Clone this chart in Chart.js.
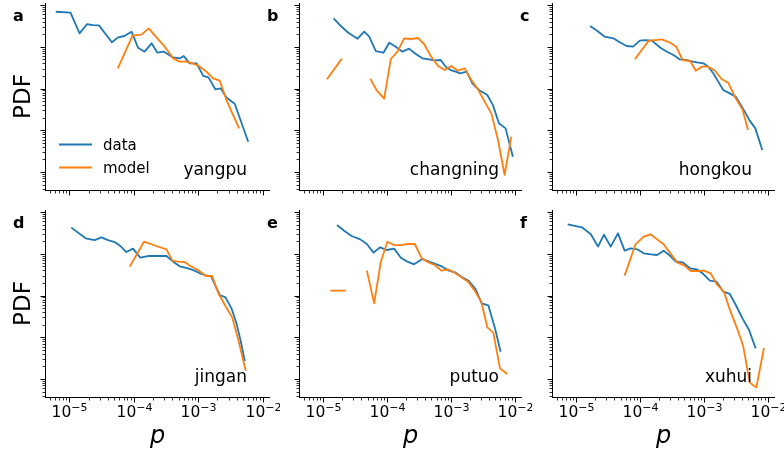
<!DOCTYPE html>
<html lang="en">
<head>
    <meta charset="UTF-8">
    <title>PDF of p by district</title>
    <script src="https://cdn.jsdelivr.net/npm/chart.js"></script>
    <style>
        * {
            margin: 0;
            padding: 0;
            box-sizing: border-box;
        }
        body {
            background: #fff;
        }
        #fig {
            position: relative;
            width: 784px;
            height: 450px;
            overflow: hidden;
        }
        #fig canvas {
            position: absolute;
        }
    </style>
</head>
<body>
    <div id="fig"></div>

    <script>
        // axis ranges (shared by all panels)
        const P_MIN = 4.22e-6, P_MAX = 1.306e-2;
        const PDF_MIN = 0.371, PDF_MAX = 11170;

        const districts = ['yangpu', 'changning', 'hongkou', 'jingan', 'putuo', 'xuhui'];
        const panelLetters = ['a', 'b', 'c', 'd', 'e', 'f'];
        const seriesNames = ['data', 'model'];

        // yangpu
        const yangpuDataP = [6.2e-6, 1.05e-5, 1.45e-5, 1.9e-5, 2.34e-5, 2.9e-5, 4.6e-5, 5.75e-5, 7.2e-5, 9.3e-5, 1.17e-4, 1.48e-4, 1.9e-4, 2.34e-4, 2.95e-4, 4.1e-4, 5.25e-4, 6.0e-4, 7.4e-4, 9.5e-4, 1.2e-3, 1.45e-3, 1.86e-3, 2.24e-3, 2.75e-3, 3.7e-3, 6.0e-3];
        const yangpuDataPdf = [6900, 6600, 2090, 3500, 3300, 3260, 1280, 1680, 1810, 2300, 950, 762, 1210, 720, 762, 557, 528, 600, 400, 400, 200, 185, 95, 101, 61, 43, 5.3];
        const yangpuModelP = [5.7e-5, 9.6e-5, 1.32e-4, 1.72e-4, 2.26e-4, 3.04e-4, 4.1e-4, 5.2e-4, 6.6e-4, 8.2e-4, 1.03e-3, 1.35e-3, 1.71e-3, 2.17e-3, 2.76e-3, 3.5e-3, 4.33e-3];
        const yangpuModelPdf = [304, 1845, 1950, 2760, 1680, 1005, 528, 440, 440, 400, 346, 253, 175, 154, 53, 23, 11.1];

        // changning
        const changningDataP = [1.47e-5, 1.91e-5, 2.49e-5, 3.48e-5, 4.43e-5, 5.3e-5, 6.73e-5, 8.87e-5, 1.09e-4, 1.38e-4, 1.76e-4, 2.23e-4, 2.84e-4, 3.6e-4, 4.58e-4, 5.5e-4, 6.98e-4, 8.35e-4, 1.0e-3, 1.2e-3, 1.4e-3, 1.78e-3, 2.18e-3, 2.77e-3, 3.74e-3, 4.58e-3, 5.69e-3, 7.23e-3, 9.4e-3];
        const changningDataPdf = [4800, 3140, 2170, 1560, 2300, 1745, 790, 721, 1250, 1005, 762, 900, 670, 528, 500, 473, 482, 333, 277, 253, 231, 253, 133, 92, 70, 40, 14.7, 11.1, 2.33];
        const changningModelP = [1.155e-5, 1.98e-5, 3.0e-5, 5.5e-5, 6.98e-5, 9.08e-5, 1.155e-4, 1.47e-4, 1.87e-4, 2.37e-4, 3.09e-4, 3.83e-4, 4.87e-4, 6.34e-4, 8.05e-4, 1.02e-3, 1.3e-3, 1.66e-3, 2.1e-3, 2.67e-3, 3.4e-3, 4.32e-3, 5.5e-3, 6.98e-3, 8.87e-3];
        const changningModelPdf = [166, 519, null, 172, 88.7, 57.1, 509, 762, 1590, 1535, 1620, 1165, 600, 346, 277, 346, 267, 304, 160, 95.5, 48.4, 25.4, 5.85, 0.85, 7.0];

        // hongkou
        const hongkouDataP = [1.67e-5, 2.17e-5, 2.82e-5, 3.85e-5, 5.0e-5, 6.2e-5, 7.87e-5, 1.0e-4, 1.22e-4, 1.55e-4, 2.1e-4, 2.66e-4, 3.37e-4, 4.18e-4, 5.3e-4, 6.74e-4, 8.26e-4, 9.9e-4, 1.18e-3, 1.41e-3, 1.69e-3, 2.02e-3, 2.56e-3, 3.18e-3, 4.04e-3, 5.25e-3, 6.43e-3, 8.26e-3];
        const hongkouDataPdf = [3140, 2380, 1745, 1590, 1250, 1042, 1005, 1400, 1450, 1400, 950, 762, 635, 500, 482, 440, 416, 401, 333, 231, 146, 92, 76.6, 63.7, 34.8, 17, 11.1, 3.37];
        const hongkouModelP = [8.36e-5, 1.38e-4, 1.75e-4, 2.22e-4, 3.0e-4, 3.72e-4, 4.66e-4, 6.13e-4, 7.52e-4, 9.31e-4, 1.18e-3, 1.5e-3, 1.9e-3, 2.42e-3, 3.07e-3, 4.04e-3, 4.94e-3];
        const hongkouModelPdf = [500, 1400, 1450, 1505, 1250, 1005, 482, 456, 267, 333, 333, 267, 169, 138, 63.7, 31.7, 10.1];

        // jingan
        const jinganDataP = [1.08e-5, 1.8e-5, 2.49e-5, 3.16e-5, 4.0e-5, 5.08e-5, 6.22e-5, 7.7e-5, 9.8e-5, 1.27e-4, 1.67e-4, 2.25e-4, 3.23e-4, 4.1e-4, 5.19e-4, 7.0e-4, 8.88e-4, 1.06e-3, 1.27e-3, 1.61e-3, 1.88e-3, 2.17e-3, 2.66e-3, 3.3e-3, 3.94e-3, 4.55e-3, 5.31e-3];
        const jinganDataPdf = [4220, 2340, 2130, 2470, 2130, 1910, 1535, 1100, 1325, 805, 883, 883, 883, 646, 500, 448, 394, 340, 310, 282, 163, 103, 90.4, 49.3, 21.5, 8.6, 2.7];
        const jinganModelP = [8.7e-5, 1.45e-4, 2.25e-4, 3.23e-4, 4.0e-4, 4.9e-4, 6.2e-4, 7.6e-4, 1.0e-3, 1.32e-3, 1.65e-3, 2.09e-3, 2.66e-3, 3.38e-3, 4.19e-3, 5.5e-3];
        const jinganModelPdf = [491, 1945, 1535, 1276, 682, 646, 634, 509, 408, 293, 293, 109, 56.1, 30, 8.9, 1.58];

        // putuo
        const putuoDataP = [1.66e-5, 2.15e-5, 2.81e-5, 3.83e-5, 4.87e-5, 6.19e-5, 7.87e-5, 1.0e-4, 1.3e-4, 1.66e-4, 2.1e-4, 2.67e-4, 3.6e-4, 4.58e-4, 5.83e-4, 7.41e-4, 9.42e-4, 1.2e-3, 1.52e-3, 1.93e-3, 2.46e-3, 3.05e-3, 3.88e-3, 4.93e-3, 6.04e-3];
        const putuoDataPdf = [4890, 3570, 2660, 2210, 1714, 1062, 1426, 1230, 1325, 805, 646, 558, 748, 646, 569, 491, 394, 352, 272, 222, 141, 64.9, 58.2, 16.4, 4.52];
        const putuoModelP = [1.3e-5, 2.29e-5, 3.5e-5, 4.87e-5, 6.34e-5, 8.06e-5, 1.02e-4, 1.3e-4, 1.66e-4, 2.1e-4, 2.74e-4, 3.52e-4, 4.58e-4, 5.62e-4, 7.14e-4, 9.08e-4, 1.155e-3, 1.47e-3, 1.87e-3, 2.37e-3, 3.01e-3, 3.74e-3, 4.64e-3, 5.9e-3, 7.67e-3];
        const putuoModelPdf = [131, 131, null, 394, 64.9, 646, 1945, 1618, 1618, 1714, 1714, 776, 612, 538, 394, 424, 352, 272, 214, 131, 71.1, 17.3, 12.9, 1.8, 1.32];

        // xuhui
        const xuhuiDataP = [7.42e-6, 1.24e-5, 1.71e-5, 2.22e-5, 2.75e-5, 3.5e-5, 4.55e-5, 5.78e-5, 7.16e-5, 9.1e-5, 1.15e-4, 1.5e-4, 1.86e-4, 2.36e-4, 3.0e-4, 3.67e-4, 4.66e-4, 6.13e-4, 7.78e-4, 9.88e-4, 1.25e-3, 1.59e-3, 2.02e-3, 2.56e-3, 3.18e-3, 4.04e-3, 5.13e-3, 6.5e-3];
        const xuhuiDataPdf = [5070, 4300, 2920, 1480, 2860, 1480, 3080, 1186, 1350, 1276, 1023, 968, 933, 1186, 883, 646, 624, 448, 424, 327, 226, 214, 124, 109, 59.2, 28.4, 14.9, 5.43];
        const xuhuiModelP = [5.78e-5, 8.57e-5, 1.15e-4, 1.47e-4, 1.86e-4, 2.36e-4, 3.0e-4, 3.9e-4, 4.94e-4, 6.28e-4, 7.98e-4, 1.01e-3, 1.29e-3, 1.63e-3, 2.07e-3, 2.63e-3, 3.33e-3, 4.14e-3, 5.25e-3, 6.67e-3, 8.77e-3];
        const xuhuiModelPdf = [299, 1683, 2565, 2920, 2213, 1683, 1023, 612, 528, 386, 386, 394, 340, 179, 124, 41, 16.4, 6.28, 0.82, 0.63, 5.52];

        const panelSeries = [
            [yangpuDataP, yangpuDataPdf, yangpuModelP, yangpuModelPdf],
            [changningDataP, changningDataPdf, changningModelP, changningModelPdf],
            [hongkouDataP, hongkouDataPdf, hongkouModelP, hongkouModelPdf],
            [jinganDataP, jinganDataPdf, jinganModelP, jinganModelPdf],
            [putuoDataP, putuoDataPdf, putuoModelP, putuoModelPdf],
            [xuhuiDataP, xuhuiDataPdf, xuhuiModelP, xuhuiModelPdf]
        ];

        const BLUE = '#1f77b4', ORANGE = '#ff7f0e';
        const FONT = '"DejaVu Sans", sans-serif';

        // canvas placement of the 2x3 grid
        const columns = [
            { left: 0, width: 280, padL: 45, padR: 10 },
            { left: 260, width: 272, padL: 39, padR: 10 },
            { left: 515, width: 269, padL: 37, padR: 9 }
        ];
        const rows = [
            { top: 0, height: 200, padT: 3, padB: 10 },
            { top: 200, height: 250, padT: 10, padB: 53 }
        ];

        function toPoints(ps, ys) {
            return ps.map((p, i) => ({ x: p, y: ys[i] }));
        }

        function logTicks(min, max) {
            const out = [];
            for (let e = Math.floor(Math.log10(min)); e <= Math.ceil(Math.log10(max)); e++) {
                for (let m = 1; m <= 9; m++) {
                    const v = m * Math.pow(10, e);
                    if (v >= min * 0.9999 && v <= max * 1.0001) out.push({ v, major: m === 1, e });
                }
            }
            return out;
        }

        // spines, ticks, labels and annotations in matplotlib style
        const decorPlugin = {
            id: 'decor',
            afterDraw(chart, args, opts) {
                const { ctx, chartArea: area } = chart;
                const xs = chart.scales.x, ys = chart.scales.y;
                const L = area.left + 0.5, B = area.bottom + 0.5;
                ctx.save();
                ctx.strokeStyle = '#000';
                ctx.fillStyle = '#000';

                ctx.lineWidth = 1;
                ctx.beginPath();
                ctx.moveTo(L, area.top);
                ctx.lineTo(L, B + 0.5);
                ctx.moveTo(L - 0.5, B);
                ctx.lineTo(area.right, B);
                ctx.stroke();

                logTicks(P_MIN, P_MAX).forEach(t => {
                    const px = Math.round(xs.getPixelForValue(t.v)) + 0.5;
                    ctx.lineWidth = t.major ? 1 : 0.8;
                    ctx.beginPath();
                    ctx.moveTo(px, B);
                    ctx.lineTo(px, B + (t.major ? 5 : 3));
                    ctx.stroke();
                    if (t.major && opts.bottomRow) {
                        const base = '10', sup = '\u2212' + Math.abs(t.e);
                        ctx.font = '15.5px ' + FONT;
                        const w1 = ctx.measureText(base).width;
                        ctx.font = '11px ' + FONT;
                        const w2 = ctx.measureText(sup).width;
                        const x0 = px - (w1 + w2) / 2;
                        ctx.textAlign = 'left';
                        ctx.textBaseline = 'alphabetic';
                        ctx.font = '15.5px ' + FONT;
                        ctx.fillText(base, x0, area.bottom + 20);
                        ctx.font = '11px ' + FONT;
                        ctx.fillText(sup, x0 + w1, area.bottom + 14);
                    }
                });
                logTicks(PDF_MIN, PDF_MAX).forEach(t => {
                    const py = Math.round(ys.getPixelForValue(t.v)) + 0.5;
                    ctx.lineWidth = t.major ? 1 : 0.8;
                    ctx.beginPath();
                    ctx.moveTo(L, py);
                    ctx.lineTo(L - (t.major ? 5 : 3), py);
                    ctx.stroke();
                });

                ctx.textBaseline = 'alphabetic';
                ctx.font = 'bold 16px ' + FONT;
                ctx.textAlign = 'left';
                ctx.fillText(opts.letter, area.left - 32, area.top + 18);

                ctx.font = '17px ' + FONT;
                ctx.textAlign = 'right';
                ctx.fillText(opts.name, area.right - 23, area.bottom - 15);

                if (opts.ylabel) {
                    ctx.save();
                    ctx.translate(area.left - 15, (area.top + area.bottom) / 2);
                    ctx.rotate(-Math.PI / 2);
                    ctx.font = '23px ' + FONT;
                    ctx.textAlign = 'center';
                    ctx.fillText('PDF', 0, 0);
                    ctx.restore();
                }
                if (opts.bottomRow) {
                    ctx.font = 'italic 24px ' + FONT;
                    ctx.textAlign = 'center';
                    ctx.fillText('p', (area.left + area.right) / 2, area.bottom + 46);
                }
                if (opts.legend) {
                    [BLUE, ORANGE].forEach((c, i) => {
                        const y = area.top + 141.5 + i * 23;
                        ctx.strokeStyle = c;
                        ctx.lineWidth = 1.8;
                        ctx.beginPath();
                        ctx.moveTo(area.left + 14, y);
                        ctx.lineTo(area.left + 47, y);
                        ctx.stroke();
                        ctx.font = '15px ' + FONT;
                        ctx.textAlign = 'left';
                        ctx.fillText(seriesNames[i], area.left + 58, y + 5.5);
                    });
                }
                ctx.restore();
            }
        };

        const fig = document.getElementById('fig');

        districts.forEach((name, i) => {
            const col = columns[i % 3], row = rows[Math.floor(i / 3)];
            const canvas = document.createElement('canvas');
            canvas.width = col.width;
            canvas.height = row.height;
            canvas.style.left = col.left + 'px';
            canvas.style.top = row.top + 'px';
            canvas.style.width = col.width + 'px';
            canvas.style.height = row.height + 'px';
            fig.appendChild(canvas);

            const [dataP, dataPdf, modelP, modelPdf] = panelSeries[i];

            new Chart(canvas.getContext('2d'), {
                type: 'line',
                data: {
                    datasets: [{
                        label: seriesNames[1],
                        data: toPoints(modelP, modelPdf),
                        borderColor: ORANGE,
                        order: 1
                    }, {
                        label: seriesNames[0],
                        data: toPoints(dataP, dataPdf),
                        borderColor: BLUE,
                        order: 2
                    }]
                },
                options: {
                    responsive: false,
                    animation: false,
                    devicePixelRatio: 1,
                    spanGaps: false,
                    layout: {
                        padding: { left: col.padL, right: col.padR, top: row.padT, bottom: row.padB }
                    },
                    elements: {
                        point: { radius: 0 },
                        line: { borderWidth: 1.8, tension: 0, borderJoinStyle: 'round', fill: false }
                    },
                    scales: {
                        x: { type: 'logarithmic', display: false, min: P_MIN, max: P_MAX },
                        y: { type: 'logarithmic', display: false, min: PDF_MIN, max: PDF_MAX }
                    },
                    plugins: {
                        legend: { display: false },
                        tooltip: { enabled: false },
                        decor: {
                            letter: panelLetters[i],
                            name: name,
                            bottomRow: i >= 3,
                            ylabel: i % 3 === 0,
                            legend: i === 0
                        }
                    }
                },
                plugins: [decorPlugin]
            });
        });
    </script>
</body>
</html>
